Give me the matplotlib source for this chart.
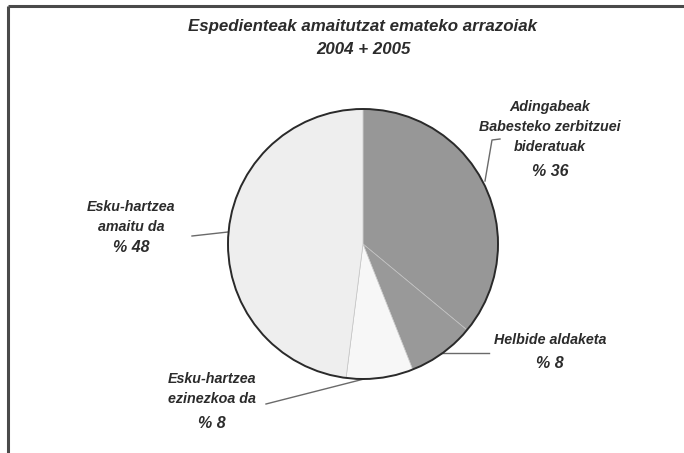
import matplotlib
matplotlib.use("Agg")
import matplotlib.pyplot as plt
from matplotlib.patches import Circle

plt.rcParams['font.family'] = ['Liberation Sans', 'DejaVu Sans']

# data
labels = ['Adingabeak\nBabesteko zerbitzuei\nbideratuak', 'Helbide aldaketa',
          'Esku-hartzea\nezinezkoa da', 'Esku-hartzea\namaitu da']
values = [36, 8, 8, 48]
pct_labels = ['% 36', '% 8', '% 8', '% 48']
colors = ['#979797', '#999999', '#f7f7f7', '#eeeeee']

W, H = 684, 453
fig = plt.figure(figsize=(6.84, 4.53), dpi=100)
ax = fig.add_axes([0, 0, 1, 1])

# pie in pixel coords (y flipped)
cx, cy, r = 363, H - 244, 135
ax.pie(values, colors=colors, startangle=90, counterclock=False,
       center=(cx, cy), radius=r, frame=True,
       wedgeprops=dict(edgecolor='#c4c4c4', linewidth=0.5))
ax.set_xlim(0, W)
ax.set_ylim(0, H)
ax.set_aspect('equal')
ax.axis('off')
ax.add_patch(Circle((cx, cy), r, fill=False, edgecolor='#2a2a2a', lw=1.4, zorder=5))

# frame lines (top and left)
ax.plot([8, W], [H - 6, H - 6], color='#4a4a4a', lw=2.2, solid_capstyle='butt')
ax.plot([8, 8], [H - 6, 0], color='#4a4a4a', lw=2.2, solid_capstyle='butt')

tc = '#2b2b2b'
fs = 10.3
ax.text(363, H - 27, 'Espedienteak amaitutzat emateko arrazoiak', ha='center', va='center',
        fontsize=12.2, fontweight='bold', style='italic', color=tc)
ax.text(363, H - 49, '2004 + 2005', ha='center', va='center',
        fontsize=12.2, fontweight='bold', style='italic', color=tc)

# label positions (pixel coords): centre x, first line y, pct y
lab_pos = [(550, 107, 171), (550, 340, 363), (212, 379, 423), (131, 207, 247)]
for (x, y0, yp), lab, p in zip(lab_pos, labels, pct_labels):
    for k, line in enumerate(lab.split('\n')):
        ax.text(x, H - (y0 + 20 * k), line, ha='center', va='center', fontsize=fs,
                fontweight='bold', style='italic', color=tc)
    ax.text(x, H - yp, p, ha='center', va='center', fontsize=fs + 1.2,
            fontweight='bold', style='italic', color=tc)

# leader lines
leaders = [[(485, 181), (492, 140), (500, 139)],
           [(441, 353), (489, 353)],
           [(266, 404), (364, 379)],
           [(192, 236), (228, 232)]]
for pts in leaders:
    ax.plot([p[0] for p in pts], [H - p[1] for p in pts], color='#6a6a6a', lw=1.0)

plt.savefig('out.png', dpi=100)
